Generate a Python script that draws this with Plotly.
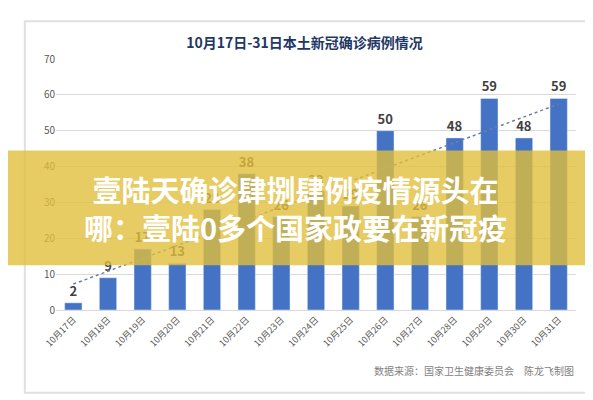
import plotly.graph_objects as go
import numpy as np

dates = ["10月17日","10月18日","10月19日","10月20日","10月21日","10月22日","10月23日","10月24日",
         "10月25日","10月26日","10月27日","10月28日","10月29日","10月30日","10月31日"]
cases = [2, 9, 17, 13, 28, 38, 26, 33, 29, 50, 26, 48, 59, 48, 59]
ticks = [0, 10, 20, 30, 40, 50, 60, 70]

x = np.arange(len(cases))
k, b = np.polyfit(x, cases, 1)
trend = k * x + b

fig = go.Figure()
fig.add_trace(go.Bar(x=dates, y=cases, text=["<b>%d</b>" % v for v in cases], textposition="outside",
                     textfont=dict(size=13, color="#404040", family="Noto Sans CJK SC"),
                     marker=dict(color="#4472c4"), width=0.5, cliponaxis=False))
fig.add_trace(go.Scatter(x=dates, y=trend, mode="lines",
                         line=dict(color="#6f7f9f", dash="dot", width=1.5)))
fig.update_layout(
    width=593, height=400, showlegend=False,
    paper_bgcolor="white", plot_bgcolor="white",
    margin=dict(l=48, r=25, t=51, b=98),
    title=dict(text="<b>10月17日-31日本土新冠确诊病例情况</b>", x=0.5, y=0.925,
               font=dict(size=14, color="#1f3864", family="Noto Sans CJK SC")),
    font=dict(family="Noto Sans CJK SC", color="#595959"),
    yaxis=dict(range=[0, 70], tickvals=ticks, gridcolor="#d9d9d9", tickfont=dict(size=10),
               zeroline=False),
    xaxis=dict(tickangle=-45, tickfont=dict(size=9), showline=True, linecolor="#d9d9d9"),
    bargap=0.4,
)
fig.add_shape(type="rect", xref="paper", yref="paper", x0=-0.06, x1=1.03, y0=-0.33, y1=1.15,
              line=dict(color="#e0e0e0"), layer="below")
fig.add_shape(type="rect", xref="paper", yref="y", x0=-0.1, x1=1.06, y0=12.5, y1=44.5,
              fillcolor="rgba(225,190,60,0.8)", line=dict(width=0), layer="above")
fig.add_annotation(xref="paper", yref="y", x=0.46, y=28.5, showarrow=False,
                   text="<b>壹陆天确诊肆捌肆例疫情源头在<br>哪：壹陆0多个国家政要在新冠疫</b>",
                   font=dict(size=29, color="white", family="Noto Sans CJK SC"),
                   align="center")
fig.add_annotation(xref="paper", yref="paper", x=1.0, y=-0.28, showarrow=False,
                   xanchor="right", text="数据来源：国家卫生健康委员会　陈龙飞制图",
                   font=dict(size=10, color="#7f7f7f"))
fig.write_html("out.html")
